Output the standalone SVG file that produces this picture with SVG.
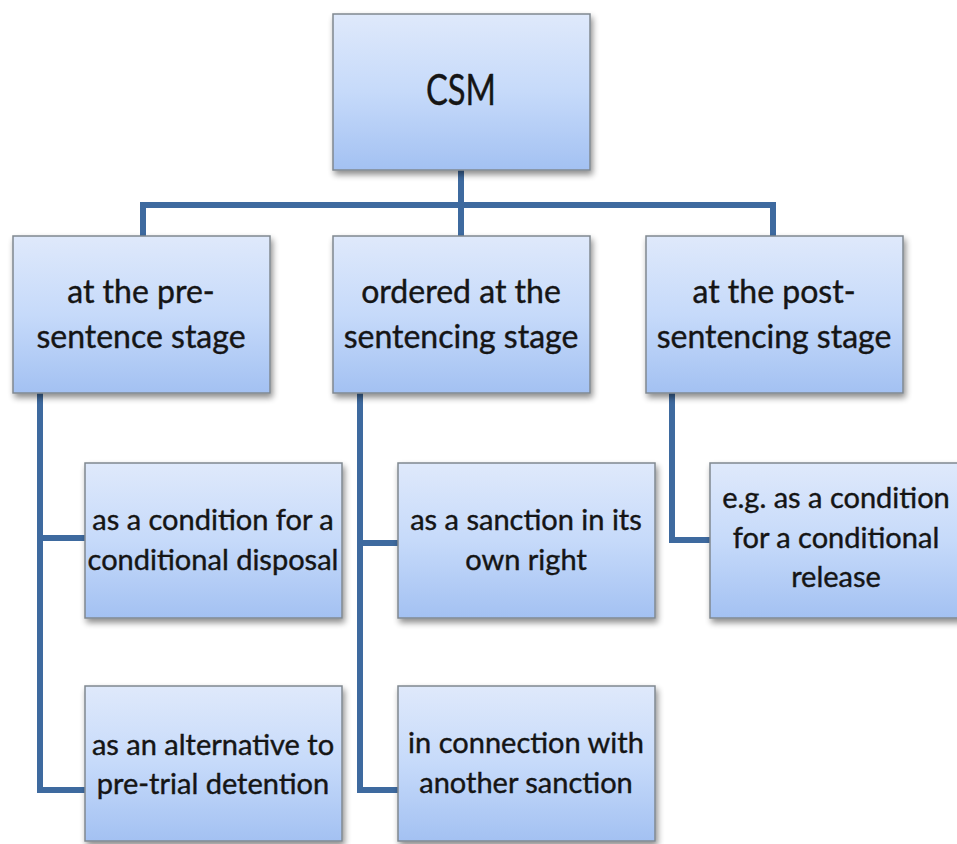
<svg xmlns="http://www.w3.org/2000/svg" width="957" height="844" viewBox="0 0 957 844">
<defs>
<linearGradient id="g" x1="0" y1="0" x2="0" y2="1">
<stop offset="0" stop-color="#dfe9fb"/>
<stop offset="0.5" stop-color="#c6dafa"/>
<stop offset="1" stop-color="#a3c1f2"/>
</linearGradient>
<filter id="sh" x="-10%" y="-10%" width="125%" height="130%">
<feGaussianBlur in="SourceAlpha" stdDeviation="3"/>
<feOffset dx="2" dy="4" result="b"/>
<feComponentTransfer><feFuncA type="linear" slope="0.45"/></feComponentTransfer>
<feMerge><feMergeNode/><feMergeNode in="SourceGraphic"/></feMerge>
</filter>
</defs>
<style>
.box{fill:url(#g);stroke:#808890;stroke-width:1.5;filter:url(#sh)}
.t{font-family:Lato,"Open Sans",sans-serif;font-size:29px;fill:#151515;text-anchor:middle;stroke:#151515;stroke-width:0.4}
.m{font-size:32px}
.c{fill:none;stroke:#3e6a9f;stroke-width:6;stroke-linejoin:miter}
</style>
<g id="connectors">
<path class="c" d="M461 170 V205 M143 236 V205 H773 V236 M461 205 V236"/>
<path class="c" d="M40 393 V790 H85 M40 538 H85"/>
<path class="c" d="M360 393 V790 H398 M360 543 H398"/>
<path class="c" d="M672 393 V540 H710"/>
</g>
<g id="csm"><rect class="box" x="333" y="14" width="257" height="156"/><text class="t" x="461" y="105" style="font-size:42px" textLength="70" lengthAdjust="spacingAndGlyphs">CSM</text></g>
<g id="pre"><rect class="box" x="13" y="236" width="257" height="157"/><text class="t m" x="141" y="303">at the pre-</text><text class="t m" x="141" y="348">sentence stage</text></g>
<g id="sent"><rect class="box" x="333" y="236" width="257" height="157"/><text class="t m" x="461" y="303">ordered at the</text><text class="t m" x="461" y="348">sentencing stage</text></g>
<g id="post"><rect class="box" x="646" y="236" width="257" height="157"/><text class="t m" x="774" y="303">at the post-</text><text class="t m" x="774" y="348">sentencing stage</text></g>
<g id="cond"><rect class="box" x="85" y="463" width="257" height="155"/><text class="t" x="213" y="530">as a condition for a</text><text class="t" x="213" y="570">conditional disposal</text></g>
<g id="alt"><rect class="box" x="85" y="686" width="257" height="155"/><text class="t" x="213" y="755">as an alternative to</text><text class="t" x="213" y="794">pre-trial detention</text></g>
<g id="own"><rect class="box" x="398" y="463" width="257" height="155"/><text class="t" x="526" y="530">as a sanction in its</text><text class="t" x="526" y="570">own right</text></g>
<g id="conn"><rect class="box" x="398" y="686" width="257" height="155"/><text class="t" x="526" y="753">in connection with</text><text class="t" x="526" y="793">another sanction</text></g>
<g id="rel"><rect class="box" x="710" y="463" width="257" height="155"/><text class="t" x="836" y="508">e.g. as a condition</text><text class="t" x="836" y="548">for a conditional</text><text class="t" x="836" y="587">release</text></g>
</svg>
